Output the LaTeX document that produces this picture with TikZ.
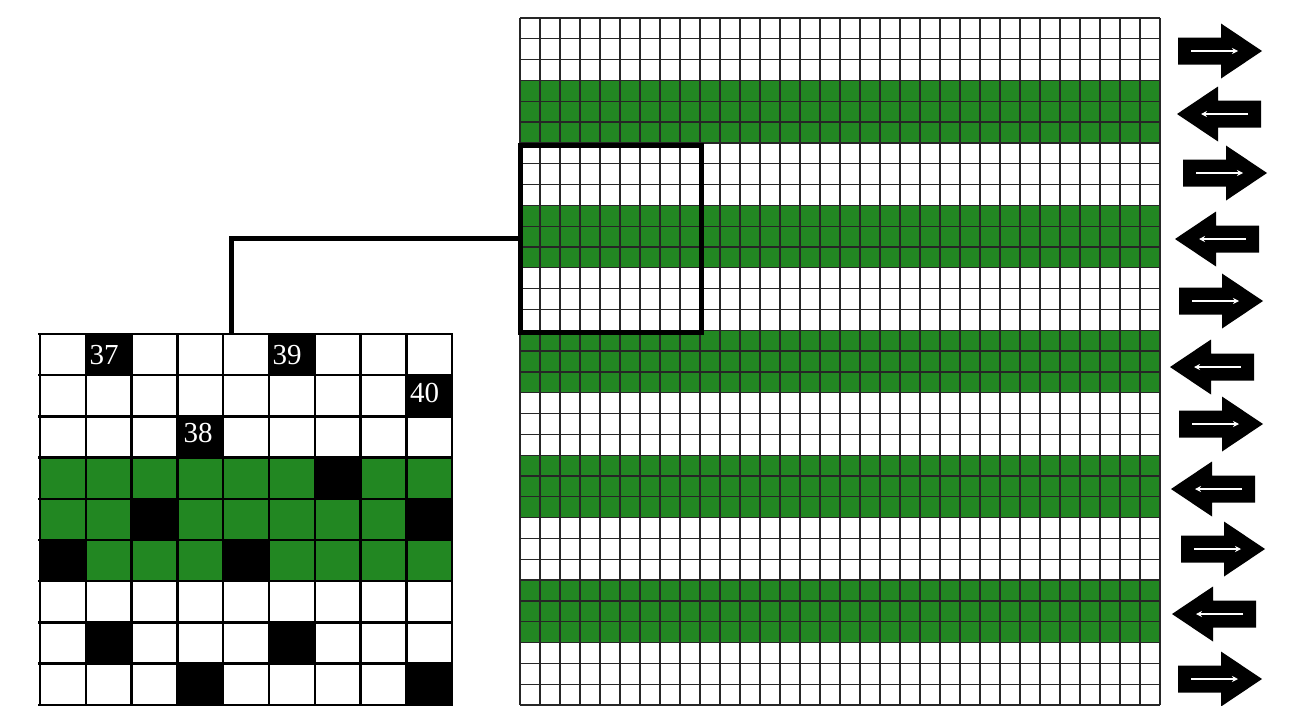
\documentclass[tikz,border=0pt]{standalone}
\usepackage{fontspec}
\setmainfont{Liberation Serif}
\usetikzlibrary{arrows.meta}
\definecolor{grn}{RGB}{34,135,34}
\tikzset{
  thingrid/.style={line width=1.3pt, draw=black!85},
  boldgrid/.style={line width=2.4pt, draw=black},
  conn/.style={line width=5pt, draw=black},
  boxstyle/.style={draw=black, line width=5pt, inner sep=0pt, outer sep=0pt, anchor=north west},
  numlabel/.style={text=white, font=\fontsize{29}{29}\selectfont, inner sep=0pt},
  pics/rarr/.style={code={
    \fill[black] (0,-13.5) -- (43,-13.5) -- (43,-27.5) -- (84,0) -- (43,27.5) -- (43,13.5) -- (0,13.5) -- cycle;
    \draw[white, line width=2.4pt, -{Stealth[length=6pt,width=6pt]}] (13,0) -- (60,0);
  }},
}
\begin{document}
\begin{tikzpicture}[x=1pt, y=-1pt]
\useasboundingbox[fill=white] (0,0) rectangle (1295,705);

% ---------- big grid ----------
\foreach \b in {3,9,15,21,27}
  \fill[grn] (520,{18+\b*20.8182}) rectangle (1160,{18+(\b+3)*20.8182});
\foreach \i in {0,...,32}
  \draw[thingrid] ({520+\i*20},18) -- ({520+\i*20},705);
\foreach \j in {0,...,33}
  \draw[thingrid] (520,{18+\j*20.8182}) -- (1160,{18+\j*20.8182});

% zoom box
\node[boxstyle, minimum width=181pt, minimum height=187pt] (zoombox) at (520,145) {};

% ---------- small grid ----------
\node[anchor=north west, minimum width=412pt, minimum height=371pt, inner sep=0pt, outer sep=0pt] (smallgrid) at (40,334) {};
\fill[grn] (40,{334+3*41.2}) rectangle (452,{334+6*41.2});
\foreach \r/\c in {0/1,0/5,1/8,2/3,3/6,4/2,4/8,5/0,5/4,7/1,7/5,8/3,8/8}
  \fill[black] ({40+\c*45.8},{334+\r*41.2}) rectangle ++(45.8,41.2);
\foreach \i in {0,...,9}
  \draw[boldgrid] ({40+\i*45.8},334) -- ({40+\i*45.8},705);
\foreach \j in {0,...,9}
  \draw[boldgrid] (38,{334+\j*41.2}) -- (453,{334+\j*41.2});

\node[numlabel] (n37) at (104,355) {37};
\node[numlabel] (n39) at (287,355) {39};
\node[numlabel] (n40) at (424.5,392.5) {40};
\node[numlabel] (n38) at (198,433) {38};

% connector
\coordinate (drop) at (231,334);
\draw[conn] (zoombox.west) -| (drop);

% ---------- direction arrows ----------
\pic at (1178,51) {rarr};
\pic[xscale=-1] at (1261,114) {rarr};
\pic at (1183,173) {rarr};
\pic[xscale=-1] at (1259,239) {rarr};
\pic at (1179,301) {rarr};
\pic[xscale=-1] at (1254,367) {rarr};
\pic at (1179,424) {rarr};
\pic[xscale=-1] at (1255,489) {rarr};
\pic at (1181,549) {rarr};
\pic[xscale=-1] at (1256,614) {rarr};
\pic at (1178,679) {rarr};
\end{tikzpicture}
\end{document}
